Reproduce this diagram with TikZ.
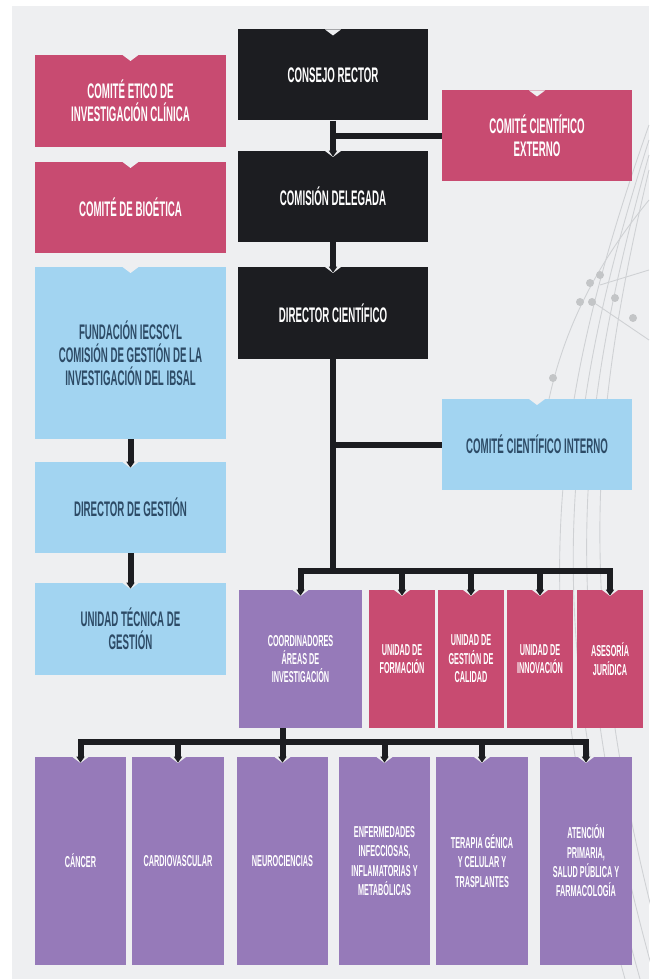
\documentclass[tikz,border=0pt]{standalone}
\usepackage{fontspec}
\setmainfont[FakeStretch=0.46]{Liberation Sans}
\usepackage{xcolor}
\usepackage{tikz}
\usetikzlibrary{arrows.meta}
\definecolor{bg}{HTML}{EEEFF1}
\definecolor{ink}{HTML}{1C1D21}
\definecolor{rose}{HTML}{C84B71}
\definecolor{sky}{HTML}{A2D4F1}
\definecolor{lilac}{HTML}{967AB9}
\definecolor{slate}{HTML}{2D4B66}
\definecolor{net}{HTML}{CFD1D4}
\def\pu{0.02cm}
\tikzset{
  box/.style={rectangle, inner sep=2pt, align=center, text=white,
    font=\bfseries\fontsize{12}{13}\selectfont,
    path picture={\fill[bg] ([xshift=-8*\pu]path picture bounding box.north)
      -- ([yshift=-6*\pu]path picture bounding box.north)
      -- ([xshift=8*\pu]path picture bounding box.north) -- cycle;}},
  wide/.style={box, minimum width=190*\pu, minimum height=91*\pu},
  dark/.style={wide, fill=ink},
  pink/.style={wide, fill=rose},
  blue/.style={wide, fill=sky, text=slate},
  unit/.style={box, fill=rose, minimum width=66*\pu, minimum height=138*\pu,
    font=\bfseries\fontsize{9}{10.5}\selectfont},
  area/.style={box, fill=lilac, minimum width=91*\pu, minimum height=208*\pu,
    font=\bfseries\fontsize{9}{11}\selectfont},
  link/.style={draw=ink, line width=6*\pu},
  tip/.style={-{Triangle[width=8*\pu,length=6*\pu]}, shorten >=-6*\pu},
}
\begin{document}
\begin{tikzpicture}[x=0.02cm, y=-0.02cm]
  % page and background
  \useasboundingbox (0,0) rectangle (649,979);
  \fill[white] (0,0) rectangle (649,979);
  \fill[bg] (12,6) rectangle (649,979);
  % globe lines on the right
  \foreach \a/\b in {560/640, 575/655, 590/670, 545/625}
    \draw[net, line width=0.5pt] (649,\a-420) .. controls (\a,420) and (\a-20,620) .. (\b,979);
  \draw[net, line width=0.5pt] (649,200) .. controls (600,260) and (560,330) .. (545,420);
  \draw[net, line width=0.5pt] (590,300) -- (649,340) (600,285) -- (649,270);
  \foreach \x/\y in {590/283, 600/275, 580/302, 592/302, 615/298, 633/318, 553/378, 630/705}
    \fill[net!85!gray] (\x,\y) circle (4);

  % top column
  \node[dark] (consejo) at (333,75) {CONSEJO RECTOR};
  \node[dark] (comision) at (333,196.5) {COMISIÓN DELEGADA};
  \node[dark, minimum height=92*\pu] (director) at (333,313) {DIRECTOR CIENTÍFICO};
  \node[pink] (externo) at (537,136) {COMITÉ CIENTÍFICO\\EXTERNO};
  \node[blue] (interno) at (537,444.5) {COMITÉ CIENTÍFICO INTERNO};

  % left column
  \node[pink, minimum width=191*\pu, minimum height=92*\pu] (etico) at (130.5,101)
    {COMITÉ ETICO DE\\INVESTIGACIÓN CLÍNICA};
  \node[pink, minimum width=191*\pu] (bioetica) at (130.5,207.5) {COMITÉ DE BIOÉTICA};
  \node[blue, minimum width=191*\pu, minimum height=172*\pu] (fundacion) at (130.5,353)
    {FUNDACIÓN IECSCYL\\COMISIÓN DE GESTIÓN DE LA\\INVESTIGACIÓN DEL IBSAL};
  \node[blue, minimum width=191*\pu] (dirgestion) at (130.5,507.5) {DIRECTOR DE GESTIÓN};
  \node[blue, minimum width=191*\pu, minimum height=92*\pu] (unidadtec) at (130.5,629)
    {UNIDAD TÉCNICA DE\\GESTIÓN};

  % units row
  \node[unit, fill=lilac, minimum width=123*\pu] (coord) at (300.5,659)
    {COORDINADORES\\ÁREAS DE\\INVESTIGACIÓN};
  \node[unit] (formacion) at (402,659) {UNIDAD DE\\FORMACIÓN};
  \node[unit] (calidad) at (471,659) {UNIDAD DE\\GESTIÓN DE\\CALIDAD};
  \node[unit] (innovacion) at (540,659) {UNIDAD DE\\INNOVACIÓN};
  \node[unit] (asesoria) at (610,659) {ASESORÍA\\JURÍDICA};

  % research areas
  \node[area] (cancer) at (80.5,861) {CÁNCER};
  \node[area, minimum width=92*\pu] (cardio) at (178,861) {CARDIOVASCULAR};
  \node[area] (neuro) at (282.5,861) {NEUROCIENCIAS};
  \node[area] (enferm) at (384.5,861)
    {ENFERMEDADES\\INFECCIOSAS,\\INFLAMATORIAS Y\\METABÓLICAS};
  \node[area, minimum width=92*\pu] (terapia) at (482,861)
    {TERAPIA GÉNICA\\Y CELULAR Y\\TRASPLANTES};
  \node[area, minimum width=92*\pu] (atencion) at (586,861)
    {ATENCIÓN\\PRIMARIA,\\SALUD PÚBLICA Y\\FARMACOLOGÍA};

  % connectors
  \coordinate (yu) at (0,571);
  \coordinate (ya) at (0,742);
  \draw[link, tip] (consejo) -- (comision);
  \draw[link] (consejo.south |- externo.west) -- (externo.west);
  \draw[link, tip] (comision) -- (director);
  \draw[link] (director.south) -- (director.south |- yu);
  \draw[link] (director.south |- interno.west) -- (interno.west);
  \draw[link, tip] (fundacion) -- (dirgestion);
  \draw[link, tip] (dirgestion) -- (unidadtec);
  \draw[link, line cap=rect] (coord.north |- yu) -- (asesoria.north |- yu);
  \foreach \n in {coord,formacion,calidad,innovacion,asesoria}
    \draw[link, tip] (\n.north |- yu) -- (\n.north);
  \draw[link] (neuro.north |- coord.south) -- (neuro.north |- ya);
  \draw[link, line cap=rect] (cancer.north |- ya) -- (atencion.north |- ya);
  \foreach \n in {cancer,cardio,neuro,enferm,terapia,atencion}
    \draw[link, tip] (\n.north |- ya) -- (\n.north);
\end{tikzpicture}
\end{document}
